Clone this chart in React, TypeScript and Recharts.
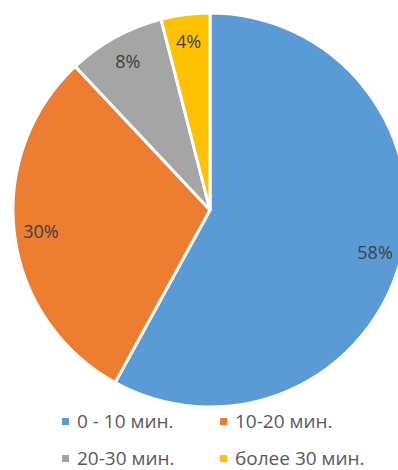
import React from 'react';
import { PieChart, Pie, Cell, Legend } from 'recharts';

const categories = ['0 - 10 мин.', '10-20 мин.', '20-30 мин.', 'более 30 мин.'];
const shares = [58, 30, 8, 4];
const colors = ['#5B9BD5', '#ED7D31', '#A5A5A5', '#FFC000'];

const data = categories.map((name, i) => ({ name, value: shares[i] }));

const RADIAN = Math.PI / 180;

const renderLabel = (props: any) => {
  const { cx, cy, midAngle, outerRadius, value } = props;
  const r = outerRadius * 0.865;
  const x = cx + r * Math.cos(-midAngle * RADIAN);
  const y = cy + r * Math.sin(-midAngle * RADIAN);
  return (
    <text
      x={x}
      y={y}
      fill="#404040"
      fontSize={18}
      fontFamily="'Open Sans', sans-serif"
      textAnchor="middle"
      dominantBaseline="central"
    >
      {`${value}%`}
    </text>
  );
};

const LegendContent = () => (
  <div
    style={{
      display: 'grid',
      gridTemplateColumns: '158px 170px',
      rowGap: 16,
      paddingLeft: 62,
      fontFamily: "'Open Sans', sans-serif",
      fontSize: 19,
      lineHeight: '21px',
      color: '#595959',
    }}
  >
    {categories.map((name, i) => (
      <div key={name} style={{ display: 'flex', alignItems: 'center', height: 21, whiteSpace: 'nowrap' }}>
        <span
          style={{
            display: 'inline-block',
            width: 7,
            height: 7,
            background: colors[i],
            marginRight: 8,
          }}
        />
        {name}
      </div>
    ))}
  </div>
);

const App: React.FC = () => {
  return (
    <div style={{ position: 'absolute', left: 0, top: 0, width: 398, height: 470, background: '#fff', overflow: 'hidden' }}>
      <PieChart width={398} height={470} margin={{ top: 0, right: 0, bottom: 0, left: 0 }}>
        <Pie
          data={data}
          dataKey="value"
          nameKey="name"
          cx={210}
          cy={210}
          outerRadius={197}
          startAngle={90}
          endAngle={-270}
          stroke="#ffffff"
          strokeWidth={3}
          label={renderLabel}
          labelLine={false}
          isAnimationActive={false}
        >
          {data.map((d, i) => (
            <Cell key={d.name} fill={colors[i]} />
          ))}
        </Pie>
        <Legend
          content={<LegendContent />}
          wrapperStyle={{ position: 'absolute', left: 0, top: 411, width: 398 }}
        />
      </PieChart>
    </div>
  );
};

export default App;
